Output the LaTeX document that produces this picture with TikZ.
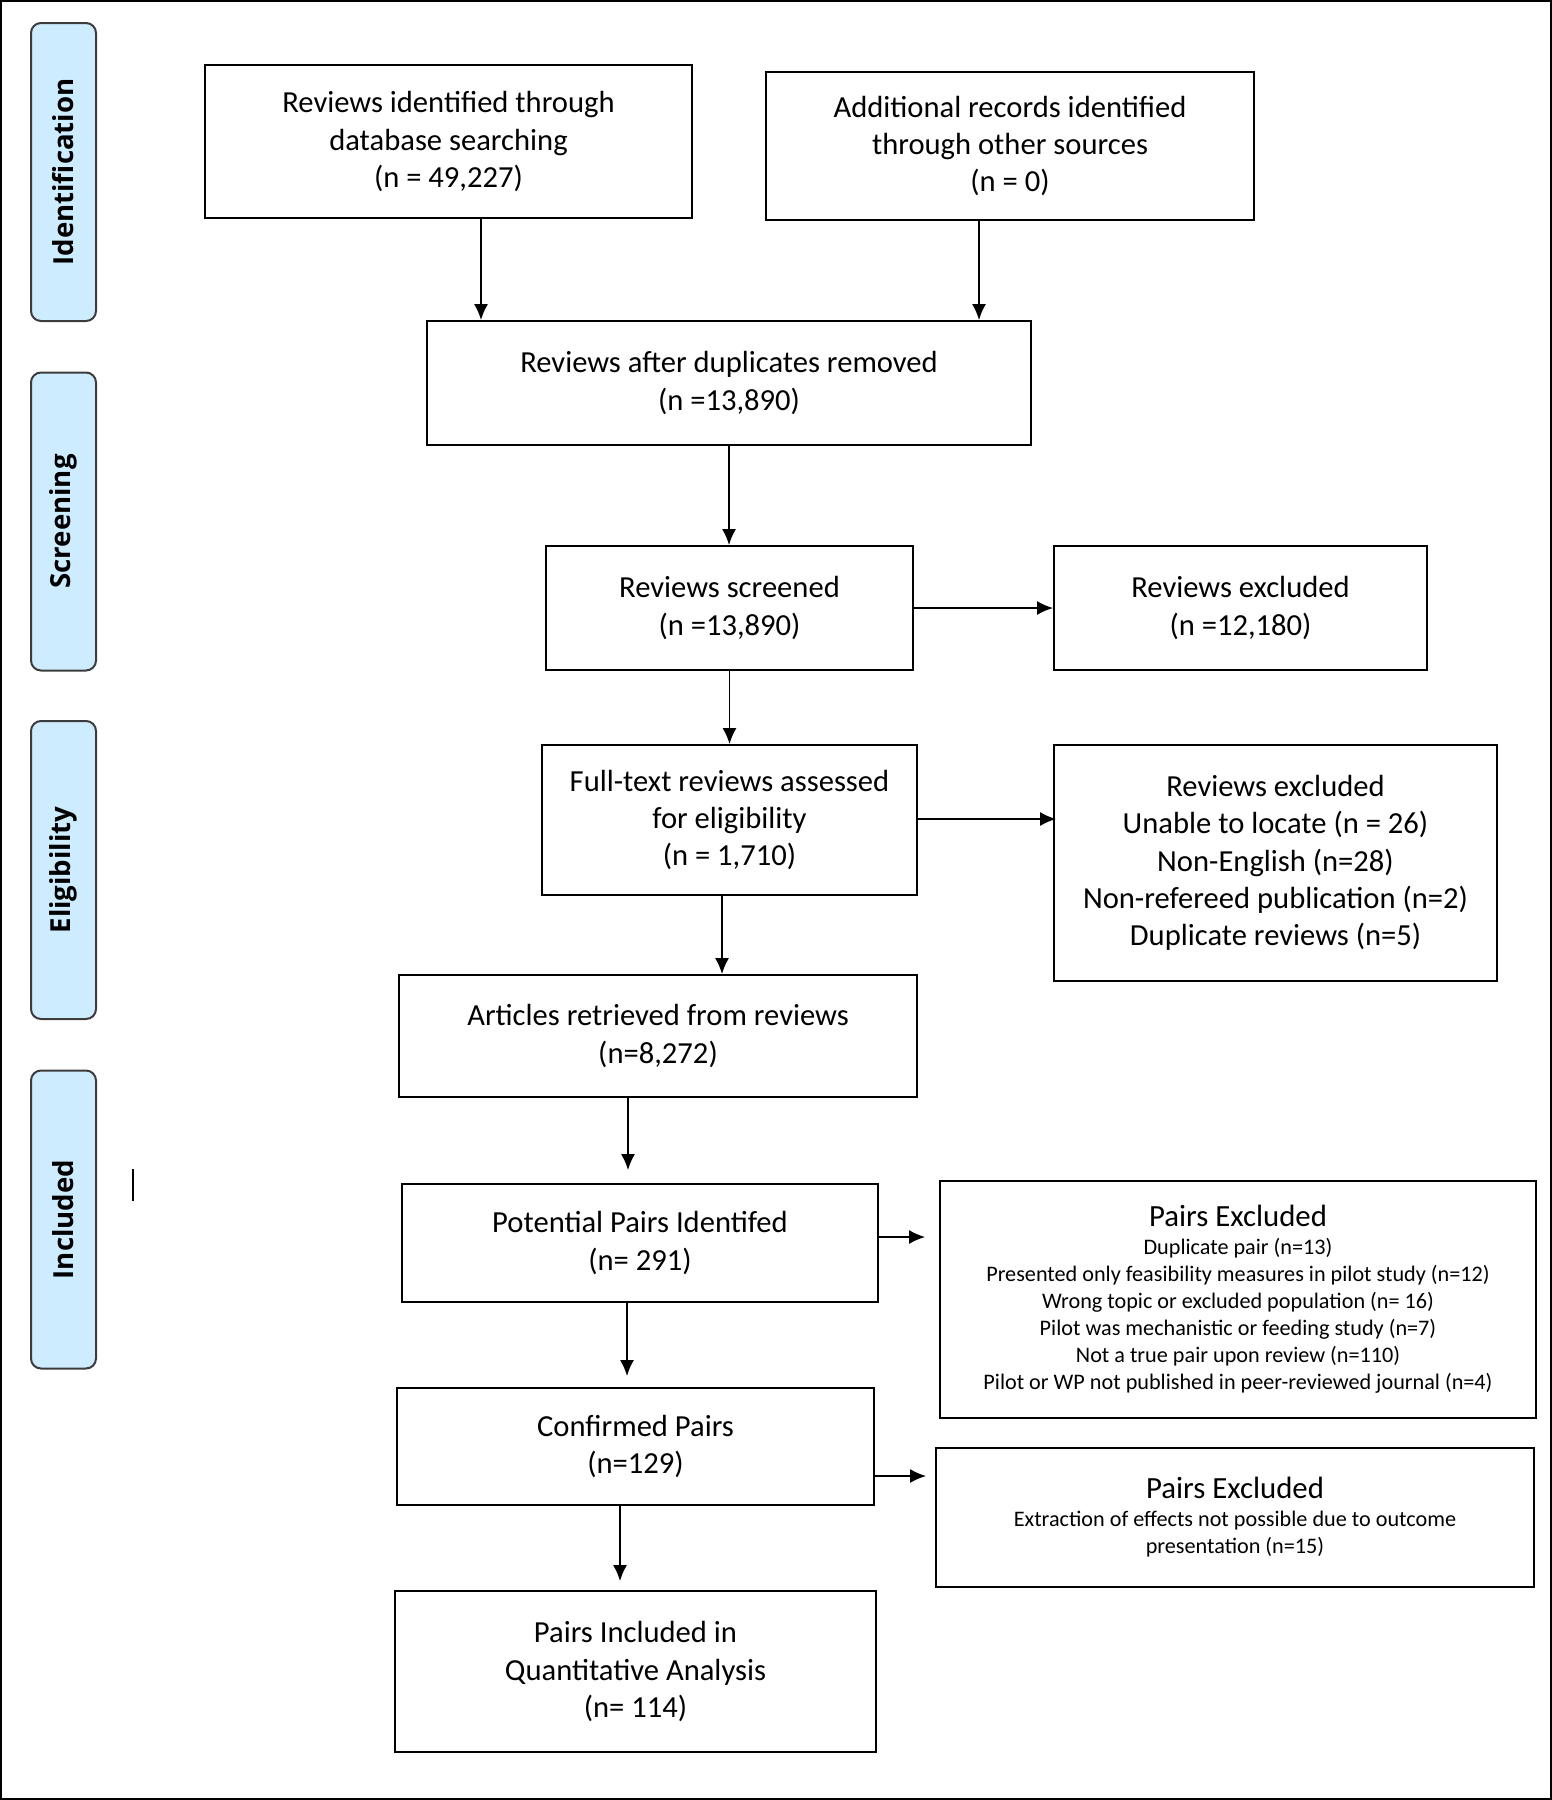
\documentclass[tikz,border=0pt]{standalone}
\usepackage{fontspec}
\setmainfont{Carlito}
\newfontfamily\labelfont{Open Sans}
\usetikzlibrary{arrows.meta}
\definecolor{labfill}{RGB}{206,236,255}
\definecolor{labborder}{RGB}{60,60,60}
\begin{document}
\begin{tikzpicture}[x=0.5pt,y=-0.5pt,
  box/.style={draw, line width=0.9pt, align=center, inner sep=0pt,
    font=\fontsize{15.3}{18.7}\selectfont},
  smallbox/.style={draw, line width=0.9pt, align=center, inner sep=0pt,
    font=\fontsize{11.1}{13.5}\selectfont},
  lab/.style={draw=labborder, fill=labfill, rounded corners=5pt, line width=1pt,
    minimum width=149pt, minimum height=32.5pt, inner sep=0pt, rotate=90,
    font=\labelfont\bfseries\fontsize{13.8}{16}\selectfont},
  arr/.style={-{Latex[length=8pt,width=7pt]}, line width=0.9pt}]
\useasboundingbox (0,0) rectangle (1552,1800);
\draw[line width=1.2pt] (1,1) rectangle (1551,1799);
% stage labels
\node[lab] (idl) at (63.5,172) {Identification};
\node[lab] (scl) at (63.5,521.5) {Screening};
\node[lab] (ell) at (63.5,870) {Eligibility};
\node[lab] (inl) at (63.5,1219.5) {Included};
\draw[line width=0.9pt] (133,1169) -- (133,1201);
% boxes
\node[box, minimum width=243.5pt, minimum height=76.5pt] (A) at (448.5,141.5)
  {Reviews identified through\\database searching\\(n = 49,227)};
\node[box, minimum width=244pt, minimum height=74pt] (B) at (1010,146)
  {Additional records identified\\through other sources\\(n = 0)};
\node[box, minimum width=302pt, minimum height=62pt] (C) at (729,383)
  {Reviews after duplicates removed\\(n =13,890)};
\node[box, minimum width=183.5pt, minimum height=62pt] (D) at (729.5,608)
  {Reviews screened\\(n =13,890)};
\node[box, minimum width=186.5pt, minimum height=62pt] (E) at (1240.5,608)
  {Reviews excluded\\(n =12,180)};
\node[box, minimum width=187.5pt, minimum height=75pt] (F) at (729.5,820)
  {Full-text reviews assessed\\for eligibility\\(n = 1,710)};
\node[box, minimum width=221.5pt, minimum height=118pt] (G) at (1275.5,863)
  {Reviews excluded\\Unable to locate (n = 26)\\Non-English (n=28)\\Non-refereed publication (n=2)\\Duplicate reviews (n=5)};
\node[box, minimum width=259pt, minimum height=61pt] (H) at (658,1036)
  {Articles retrieved from reviews\\(n=8,272)};
\node[box, minimum width=238pt, minimum height=59pt] (I) at (640,1243)
  {Potential Pairs Identifed\\(n= 291)};
\node[smallbox, minimum width=298pt, minimum height=118.5pt] (J) at (1238,1299.5)
  {{\fontsize{15.4}{16}\selectfont Pairs Excluded}\\[0.5pt]
   Duplicate pair (n=13)\\
   Presented only feasibility measures in pilot study (n=12)\\
   Wrong topic or excluded population (n= 16)\\
   Pilot was mechanistic or feeding study (n=7)\\
   Not a true pair upon review (n=110)\\
   Pilot or WP not published in peer-reviewed journal (n=4)};
\node[box, minimum width=238.5pt, minimum height=58.5pt] (K) at (635.5,1446.5)
  {Confirmed Pairs\\(n=129)};
\node[smallbox, minimum width=299pt, minimum height=69.5pt] (L) at (1235,1517.5)
  {{\fontsize{15.4}{16}\selectfont Pairs Excluded}\\[0.5pt]
   Extraction of effects not possible due to outcome\\
   presentation (n=15)};
\node[box, minimum width=240.5pt, minimum height=80.5pt] (M) at (635.5,1671.5)
  {Pairs Included in\\Quantitative Analysis\\(n= 114)};
% arrows
\draw[arr] ([xshift=16.25pt]A.south) -- ([xshift=16.25pt]A.south |- C.north);
\draw[arr] ([xshift=-15.5pt]B.south) -- ([xshift=-15.5pt]B.south |- C.north);
\draw[arr] (C.south) -- (C.south |- D.north);
\draw[arr] (D.east) -- (E.west);
\draw[arr] (D.south) -- (D.south |- F.north);
\draw[arr, shorten >=-1.5pt] ([yshift=0.5pt]F.east) -- ([yshift=0.5pt]F.east -| G.west);
\draw[arr] ([xshift=-3.75pt]F.south) -- ([xshift=-3.75pt]F.south |- H.north);
\draw[arr, shorten >=6.5pt] ([xshift=-15pt]H.south) -- ([xshift=-15pt]H.south |- I.north);
\draw[arr, shorten >=7pt] ([yshift=3pt]I.east) -- ([yshift=3pt]I.east -| J.west);
\draw[arr, shorten >=5.5pt] ([xshift=-6.5pt]I.south) -- ([xshift=-6.5pt]I.south |- K.north);
\draw[arr, shorten >=4.5pt] ([yshift=-14.75pt]K.east) -- ([yshift=-14.75pt]K.east -| L.west);
\draw[arr, shorten >=4.5pt] ([xshift=-7.75pt]K.south) -- ([xshift=-7.75pt]K.south |- M.north);
\end{tikzpicture}
\end{document}
